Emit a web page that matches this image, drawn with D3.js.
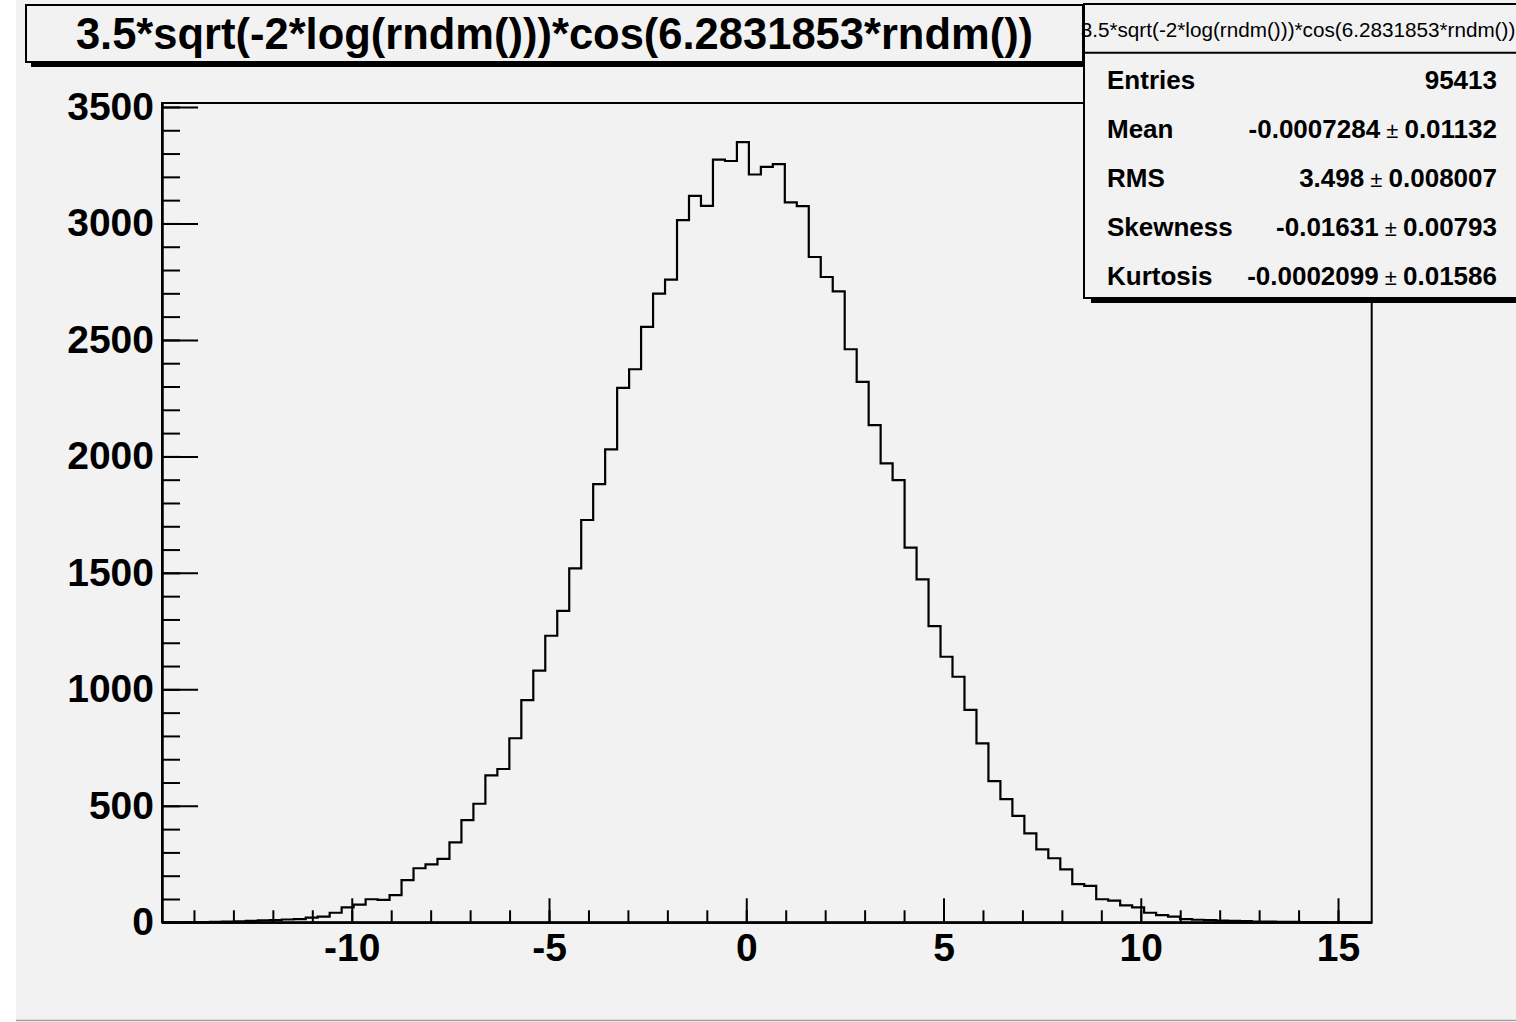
<!DOCTYPE html>
<html>
<head>
<meta charset="utf-8">
<script src="https://cdn.jsdelivr.net/npm/d3@7"></script>
<style>
  html, body { margin: 0; padding: 0; background: #ffffff; overflow: hidden; }
  svg { display: block; }
  text { font-family: "Liberation Sans", Arial, Helvetica, sans-serif; }
</style>
</head>
<body>
<svg id="canvas" width="1516" height="1022"></svg>
<script>
// ---- data ---------------------------------------------------------------
const histTitle = "3.5*sqrt(-2*log(rndm()))*cos(6.2831853*rndm())";
const binLow = -14.81;        // lower edge of the first bin
const binWidth = 0.3036;      // common bin width
const binCounts = [
  0, 0, 1, 1, 2, 3, 4, 6, 8, 9,
  12, 14, 20, 24, 41, 64, 76, 99, 96, 117,
  181, 232, 249, 272, 343, 439, 509, 631, 658, 790,
  954, 1080, 1230, 1337, 1519, 1727, 1881, 2030, 2294, 2374,
  2556, 2699, 2759, 3014, 3118, 3075, 3274, 3268, 3349, 3210,
  3243, 3255, 3090, 3074, 2856, 2770, 2708, 2460, 2320, 2134,
  1970, 1898, 1608, 1472, 1271, 1140, 1054, 912, 768, 606,
  529, 457, 382, 313, 275, 227, 164, 156, 99, 93,
  73, 64, 41, 31, 24, 14, 11, 9, 7, 6,
  5, 3, 3, 2, 2, 1, 1, 0, 1, 0,
  0
];
const yAxisMax = 3517;
const xMajorTicks = [-10, -5, 0, 5, 10, 15];
const xMinorTicks = d3.range(-14, 16);
const yMajorTicks = [0, 500, 1000, 1500, 2000, 2500, 3000, 3500];
const yMinorTicks = d3.range(0, 3501, 100);
const statNames  = ["Entries", "Mean", "RMS", "Skewness", "Kurtosis"];
const statValues = ["95413", "-0.0007284", "3.498", "-0.01631", "-0.0002099"];
const statErrors = [null, "0.01132", "0.008007", "0.00793", "0.01586"];

// ---- layout -------------------------------------------------------------
const svg = d3.select("#canvas");
const frame = { left: 162, right: 1371.7, top: 103, bottom: 922.3 };
const bg = "#f2f2f2";
const FONT = '"Liberation Sans", Arial, Helvetica, sans-serif';
const plain = d => String(d);   // ASCII hyphen for negative labels

// pad background
svg.append("rect").attr("x", 16).attr("y", 0).attr("width", 1500).attr("height", 1020).attr("fill", bg);
svg.append("line").attr("x1", 16).attr("x2", 1516).attr("y1", 1020.5).attr("y2", 1020.5)
  .attr("stroke", "#a0a0a0").attr("stroke-width", 1.5);

const xHigh = binLow + binCounts.length * binWidth;
const x = d3.scaleLinear().domain([binLow, xHigh]).range([frame.left, frame.right]);
const y = d3.scaleLinear().domain([0, yAxisMax]).range([frame.bottom, frame.top]);

// frame outline
svg.append("rect")
  .attr("x", frame.left).attr("y", frame.top)
  .attr("width", frame.right - frame.left).attr("height", frame.bottom - frame.top)
  .attr("fill", bg).attr("stroke", "#000").attr("stroke-width", 2);

// histogram outline
const pts = [[x(binLow), y(0)]];
binCounts.forEach((c, i) => pts.push([x(binLow + i * binWidth), y(c)]));
pts.push([x(xHigh), y(binCounts[binCounts.length - 1])]);
pts.push([x(xHigh), y(0)]);
svg.append("path")
  .attr("d", d3.line().curve(d3.curveStepAfter)(pts))
  .attr("fill", "none").attr("stroke", "#000").attr("stroke-width", 2.2)
  .attr("stroke-linejoin", "miter");

// x axis: minor ticks, then major ticks with labels
const gx = svg.append("g").attr("transform", `translate(0,${frame.bottom})`);
gx.append("g").call(d3.axisBottom(x).tickValues(xMinorTicks).tickSizeInner(-12).tickSizeOuter(0).tickFormat(""));
gx.append("g").call(d3.axisBottom(x).tickValues(xMajorTicks).tickSizeInner(-24).tickSizeOuter(0).tickPadding(11).tickFormat(plain));

// y axis
const gy = svg.append("g").attr("transform", `translate(${frame.left},0)`);
gy.append("g").call(d3.axisLeft(y).tickValues(yMinorTicks).tickSizeInner(-18).tickSizeOuter(0).tickFormat(""));
gy.append("g").call(d3.axisLeft(y).tickValues(yMajorTicks).tickSizeInner(-36).tickSizeOuter(0).tickPadding(8).tickFormat(plain));

svg.selectAll(".domain").attr("stroke", "#000").attr("stroke-width", 2);
svg.selectAll(".tick line").attr("stroke", "#000").attr("stroke-width", 2);
svg.selectAll(".tick text")
  .attr("fill", "#000")
  .style("font-family", FONT).style("font-weight", "bold").style("font-size", "39px");

// title box with shadow
const tb = { x: 26, y: 5, w: 1057, h: 57 };
svg.append("rect").attr("x", tb.x + 5).attr("y", tb.y + 5).attr("width", tb.w).attr("height", tb.h).attr("fill", "#000");
svg.append("rect").attr("x", tb.x).attr("y", tb.y).attr("width", tb.w).attr("height", tb.h)
  .attr("fill", bg).attr("stroke", "#000").attr("stroke-width", 2);
svg.append("text")
  .attr("x", tb.x + tb.w / 2).attr("y", tb.y + tb.h / 2).attr("dy", "0.36em")
  .attr("text-anchor", "middle")
  .style("font-weight", "bold").style("font-size", "43.5px")
  .text(histTitle);

// statistics box with shadow
const sb = { x: 1084, y: 4, w: 440, h: 294 };
svg.append("rect").attr("x", sb.x + 7).attr("y", sb.y + 5).attr("width", sb.w).attr("height", sb.h).attr("fill", "#000");
svg.append("rect").attr("x", sb.x).attr("y", sb.y).attr("width", sb.w).attr("height", sb.h)
  .attr("fill", bg).attr("stroke", "#000").attr("stroke-width", 2);
svg.append("line").attr("x1", sb.x).attr("x2", sb.x + sb.w).attr("y1", 52.7).attr("y2", 52.7)
  .attr("stroke", "#000").attr("stroke-width", 2);
svg.append("text")
  .attr("x", 1298).attr("y", 30).attr("dy", "0.36em")
  .attr("text-anchor", "middle")
  .style("font-size", "20.7px")
  .text(histTitle);

const rowY = d3.scalePoint().domain(statNames).range([80, 276]);
const rows = svg.append("g").selectAll("g").data(statNames).join("g");
rows.append("text")
  .attr("x", 1107).attr("y", d => rowY(d)).attr("dy", "0.36em")
  .style("font-weight", "bold").style("font-size", "26px")
  .text(d => d);
rows.append("text")
  .attr("x", 1497).attr("y", d => rowY(d)).attr("dy", "0.36em")
  .attr("text-anchor", "end")
  .style("font-size", "26px")
  .each(function (d, i) {
    const t = d3.select(this);
    t.append("tspan").style("font-weight", "bold").text(statValues[i]);
    if (statErrors[i] !== null) {
      t.append("tspan").style("font-size", "22px").text(" \u00b1 ");
      t.append("tspan").style("font-weight", "bold").text(statErrors[i]);
    }
  });
</script>
</body>
</html>
